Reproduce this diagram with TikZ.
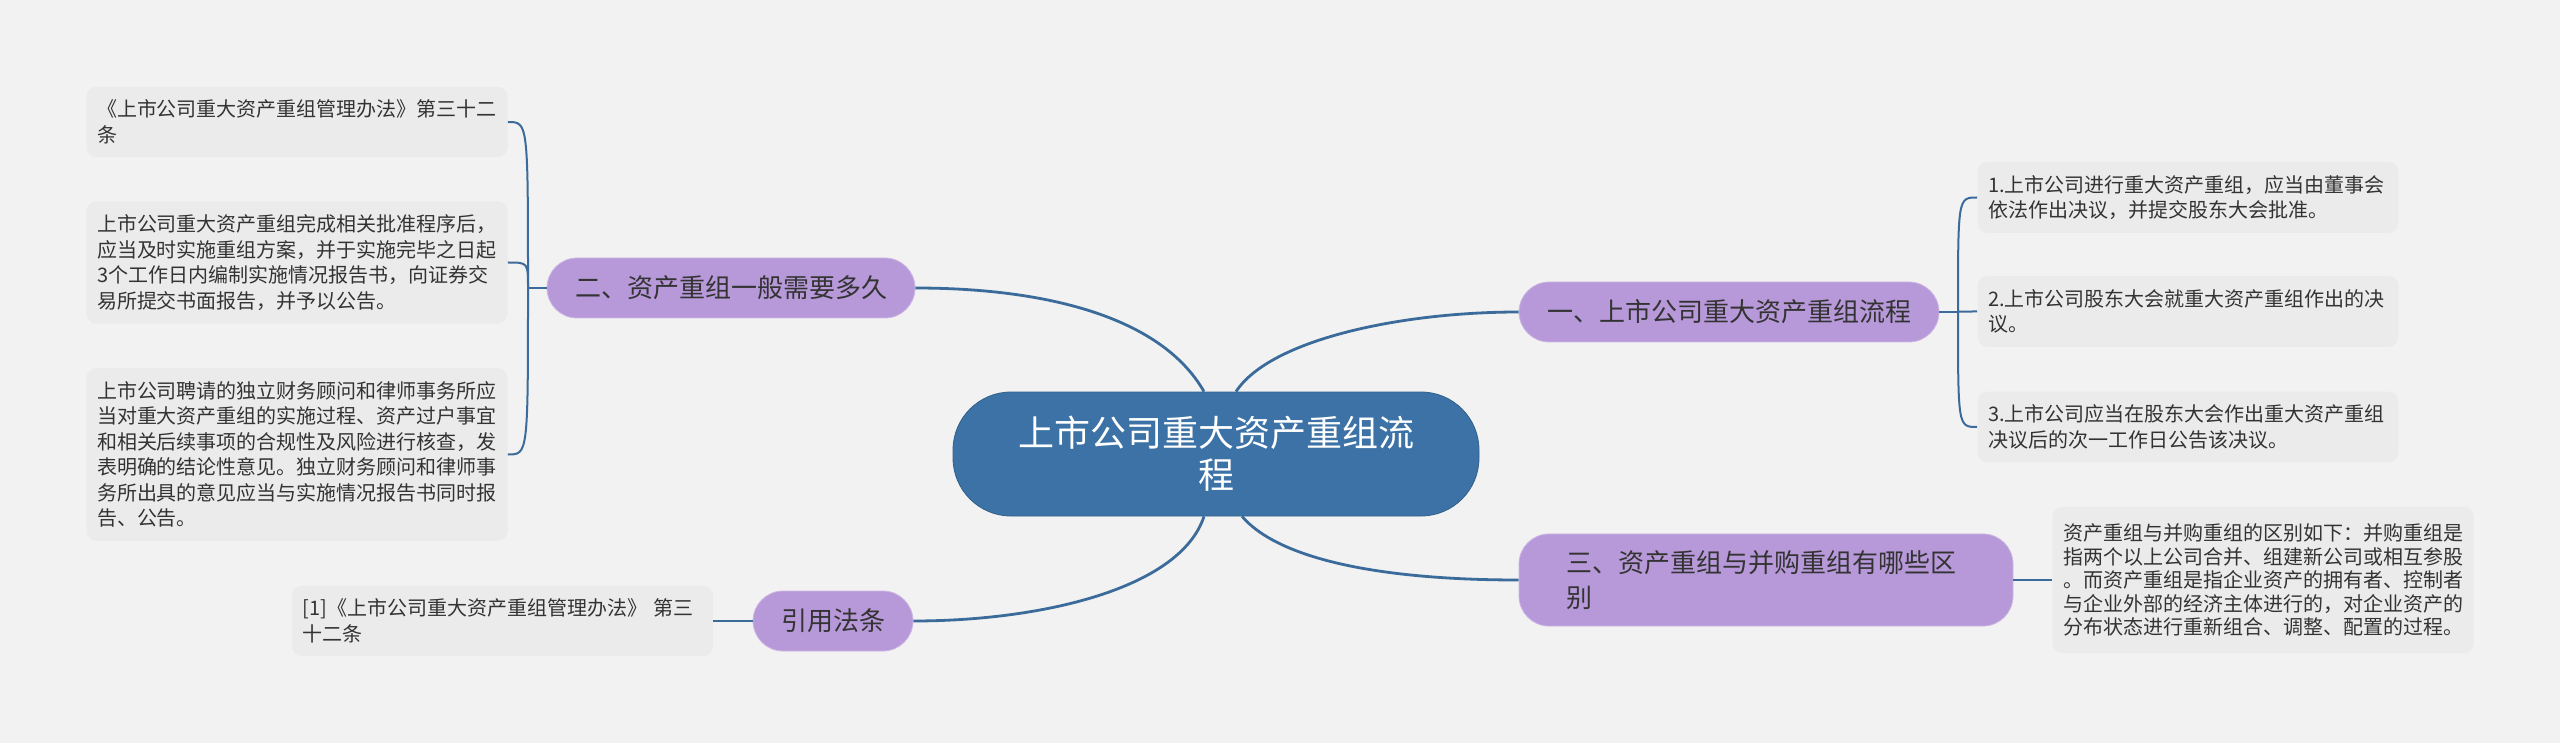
\documentclass[tikz,border=0pt]{standalone}
\usepackage{fontspec}
\setmainfont{Noto Sans CJK SC}
\definecolor{MapRoot}{HTML}{3C72A5}
\definecolor{MapBranch}{HTML}{B799D9}
\definecolor{MapLeaf}{HTML}{EBEBEB}
\definecolor{MapLine}{HTML}{3A6B9A}
\definecolor{MapBack}{HTML}{F2F2F2}
\definecolor{MapText}{HTML}{333333}
\tikzset{every node/.style={font=\fontsize{10pt}{12.75pt}\selectfont,text=MapText},
 root/.style={fill=MapRoot,draw=MapRoot!85!black,rounded corners=29pt,minimum width=263pt,
 minimum height=62pt,text width=200pt,align=center,text=white,font=\fontsize{18pt}{21pt}\selectfont},
 branch/.style={fill=MapBranch,draw=MapBranch!70!white,rounded corners=15pt,minimum height=30pt,
 inner xsep=14pt,font=\fontsize{13pt}{17.5pt}\selectfont},
 leaf/.style={fill=MapLeaf,rounded corners=5pt,text width=200pt,align=left,inner xsep=5.25pt,inner ysep=6.6pt},
 trunk/.style={draw=MapLine,line width=1.4pt},twig/.style={draw=MapLine,line width=1pt}}

\begin{document}
\begin{tikzpicture}[x=0.5pt,y=-0.5pt]
\fill[MapBack] (0,0) rectangle (2560,743);
% centre and main topics
\node[root] (root) at (1216,454) {上市公司重大资产重组流\\程};
\node[branch] (b1) at (1729,312) {一、上市公司重大资产重组流程};
\node[branch] (b2) at (731,288) {二、资产重组一般需要多久};
\node[branch,text width=200pt,align=left,inner xsep=23.5pt,inner ysep=8.25pt] (b3) at (1766,580)
 {三、资产重组与并购重组有哪些区\\别};
\node[branch] (bref) at (833,621) {引用法条};
% leaves
\node[leaf] (l1) at (297,122) {《上市公司重大资产重组管理办法》第三十二\\条};
\node[leaf] (l2) at (297,262.5) {上市公司重大资产重组完成相关批准程序后，\\应当及时实施重组方案，并于实施完毕之日起\\3个工作日内编制实施情况报告书，向证券交\\易所提交书面报告，并予以公告。};
\node[leaf] (l3) at (297,454.5) {上市公司聘请的独立财务顾问和律师事务所应\\当对重大资产重组的实施过程、资产过户事宜\\和相关后续事项的合规性及风险进行核查，发\\表明确的结论性意见。独立财务顾问和律师事\\务所出具的意见应当与实施情况报告书同时报\\告、公告。};
\node[leaf] (r1) at (2188,197.5) {1.上市公司进行重大资产重组，应当由董事会\\依法作出决议，并提交股东大会批准。};
\node[leaf] (r2) at (2188,311.5) {2.上市公司股东大会就重大资产重组作出的决\\议。};
\node[leaf] (r3) at (2188,427) {3.上市公司应当在股东大会作出重大资产重组\\决议后的次一工作日公告该决议。};
\node[leaf,font=\fontsize{10pt}{11.7pt}\selectfont,inner ysep=8.6pt] (r4) at (2263,580)
 {资产重组与并购重组的区别如下：并购重组是\\指两个以上公司合并、组建新公司或相互参股\\。而资产重组是指企业资产的拥有者、控制者\\与企业外部的经济主体进行的，对企业资产的\\分布状态进行重新组合、调整、配置的过程。};
\node[leaf] (cite) at (502.5,621) {[1]《上市公司重大资产重组管理办法》 第三\\十二条};
% trunk lines
\draw[trunk] ([xshift=10pt]root.north) .. controls +(34,-52) and +(-118,0) .. (b1.west);
\draw[trunk] ([xshift=-6pt]root.north) .. controls +(-44,-77) and +(125,0) .. (b2.east);
\draw[trunk] ([xshift=13pt]root.south) .. controls +(37,43) and +(-138,0) .. (b3.west);
\draw[trunk] ([xshift=-6pt]root.south) .. controls +(-24,73) and +(126,0) .. (bref.east);
% twigs
\coordinate (j1) at (1958,312);
\coordinate (j2) at (528,288);
\draw[twig] (b1.east) -- (j1);
\draw[twig] (b2.west) -- (j2);
\foreach \n in {r1,r2,r3} {\draw[twig] (j1) .. controls (j1 |- \n.west) .. (\n.west);}
\foreach \n in {l1,l2,l3} {\draw[twig] (j2) .. controls (j2 |- \n.east) .. (\n.east);}
\draw[twig] (b3.east) -- (r4.west);
\draw[twig] (bref.west) -- (cite.east);
\end{tikzpicture}
\end{document}
